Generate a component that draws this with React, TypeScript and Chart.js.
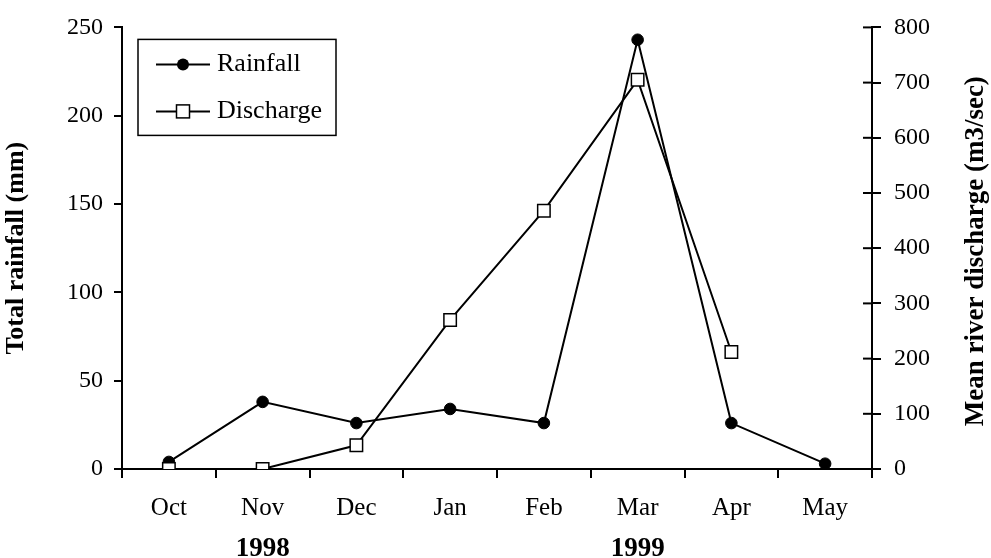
import React, { useEffect, useRef } from "react";
import Chart from "chart.js/auto";

const months = ["Oct", "Nov", "Dec", "Jan", "Feb", "Mar", "Apr", "May"];
const yearLabels = ["", "1998", "", "", "", "1999", "", ""];
const rainfall = [4, 38, 26, 34, 26, 243, 26, 3];
const discharge: (number | null)[] = [0, 0, 43, 270, 468, 705, 212, null];
const leftTitle = "Total rainfall (mm)";
const rightTitle = "Mean river discharge (m3/sec)";

const FONT = '"Liberation Serif", "Times New Roman", serif';

const legendPlugin = {
  id: "boxLegend",
  afterDraw(chart: any) {
    const ctx = chart.ctx;
    const ca = chart.chartArea;
    const y1 = chart.scales.y1;
    ctx.save();
    ctx.strokeStyle = "#000";
    ctx.lineWidth = 2;
    // inner half of right-axis ticks
    y1.ticks.forEach((_t: any, i: number) => {
      const y = y1.getPixelForTick(i);
      ctx.beginPath();
      ctx.moveTo(ca.right - 9, y);
      ctx.lineTo(ca.right, y);
      ctx.stroke();
    });
    // right axis title, reading bottom to top
    ctx.save();
    ctx.translate(976, (ca.top + ca.bottom) / 2 + 3);
    ctx.rotate(-Math.PI / 2);
    ctx.fillStyle = "#000";
    ctx.font = `bold 27px ${FONT}`;
    ctx.textAlign = "center";
    ctx.textBaseline = "middle";
    ctx.fillText(rightTitle, 0, 0);
    ctx.restore();
    // legend box
    const bx = ca.left + 16;
    const by = ca.top + 12;
    const bw = 198;
    const bh = 96;
    ctx.lineWidth = 1.5;
    ctx.fillStyle = "#fff";
    ctx.fillRect(bx, by, bw, bh);
    ctx.strokeRect(bx, by, bw, bh);
    const items = chart.data.datasets;
    [0, 1].forEach((idx, row) => {
      const ds = items[idx];
      const y = by + 25 + row * 47;
      const x0 = bx + 18;
      const x1 = bx + 72;
      const xm = bx + 45;
      ctx.beginPath();
      ctx.moveTo(x0, y);
      ctx.lineTo(x1, y);
      ctx.lineWidth = 2;
      ctx.stroke();
      if (ds.pointStyle === "rect") {
        ctx.lineWidth = 1.5;
        ctx.fillStyle = "#fff";
        ctx.fillRect(xm - 6.5, y - 6.5, 13, 13);
        ctx.strokeRect(xm - 6.5, y - 6.5, 13, 13);
      } else {
        ctx.fillStyle = "#000";
        ctx.beginPath();
        ctx.arc(xm, y, 6, 0, Math.PI * 2);
        ctx.fill();
      }
      ctx.fillStyle = "#000";
      ctx.font = `26px ${FONT}`;
      ctx.textAlign = "left";
      ctx.textBaseline = "middle";
      ctx.fillText(ds.label, bx + 79, y);
    });
    ctx.restore();
  },
};

export default function App() {
  const ref = useRef<HTMLCanvasElement>(null);
  useEffect(() => {
    document.body.style.margin = "0";
    const chart = new Chart(ref.current as HTMLCanvasElement, {
      type: "line",
      data: {
        labels: months,
        datasets: [
          {
            label: "Rainfall",
            data: rainfall,
            yAxisID: "y",
            xAxisID: "x",
            borderColor: "#000",
            backgroundColor: "#000",
            borderWidth: 2,
            pointStyle: "circle",
            pointRadius: 5.8,
            pointBorderWidth: 1,
            pointBackgroundColor: "#000",
            pointBorderColor: "#000",
            tension: 0,
            order: 1,
          },
          {
            label: "Discharge",
            data: discharge,
            yAxisID: "y1",
            xAxisID: "x",
            borderColor: "#000",
            backgroundColor: "#fff",
            borderWidth: 2,
            pointStyle: "rect",
            pointRadius: 8.8,
            pointBorderWidth: 1.5,
            pointBackgroundColor: "#fff",
            pointBorderColor: "#000",
            tension: 0,
            order: 0,
          },
        ],
      },
      options: {
        animation: false,
        responsive: false,
        layout: { padding: { top: 23, left: 0, right: 0, bottom: 0 } },
        plugins: { legend: { display: false }, tooltip: { enabled: false } },
        scales: {
          x: {
            type: "category",
            position: "bottom",
            labels: months,
            offset: true,
            grid: {
              offset: true,
              drawOnChartArea: false,
              drawTicks: true,
              tickLength: 9,
              color: "#000",
              lineWidth: 2,
            },
            border: { display: true, color: "#000", width: 2 },
            ticks: { color: "#000", font: { family: FONT, size: 25 }, padding: 15, maxRotation: 0, autoSkip: false },
            afterFit: (s: any) => { s.height = 55; },
          },
          x2: {
            type: "category",
            position: "bottom",
            labels: yearLabels,
            offset: true,
            grid: { display: false, drawTicks: false },
            border: { display: false },
            ticks: { color: "#000", font: { family: FONT, size: 27, weight: "bold" }, padding: 9, maxRotation: 0, autoSkip: false },
            afterFit: (s: any) => { s.height = 34; },
          },
          y: {
            position: "left",
            min: 0,
            max: 250,
            ticks: { stepSize: 50, color: "#000", font: { family: FONT, size: 24 }, padding: 11 },
            grid: { drawOnChartArea: false, tickLength: 8, color: "#000", lineWidth: 2 },
            border: { display: true, color: "#000", width: 2 },
            title: {
              display: true,
              text: leftTitle,
              color: "#000",
              font: { family: FONT, size: 26, weight: "bold" },
              padding: { top: 1, bottom: 0 },
            },
            afterFit: (s: any) => { s.width = 122; },
          },
          y1: {
            position: "right",
            min: 0,
            max: 800,
            ticks: { stepSize: 100, color: "#000", font: { family: FONT, size: 24 }, padding: 13 },
            grid: { drawOnChartArea: false, tickLength: 9, color: "#000", lineWidth: 2 },
            border: { display: true, color: "#000", width: 2 },
            title: { display: false },
            afterFit: (s: any) => { s.width = 119; },
          },
        },
      },
      plugins: [legendPlugin],
    } as any);
    return () => chart.destroy();
  }, []);
  return (
    <div style={{ width: 991, height: 558, background: "#fff" }}>
      <canvas ref={ref} width={991} height={558} style={{ display: "block" }} />
    </div>
  );
}
